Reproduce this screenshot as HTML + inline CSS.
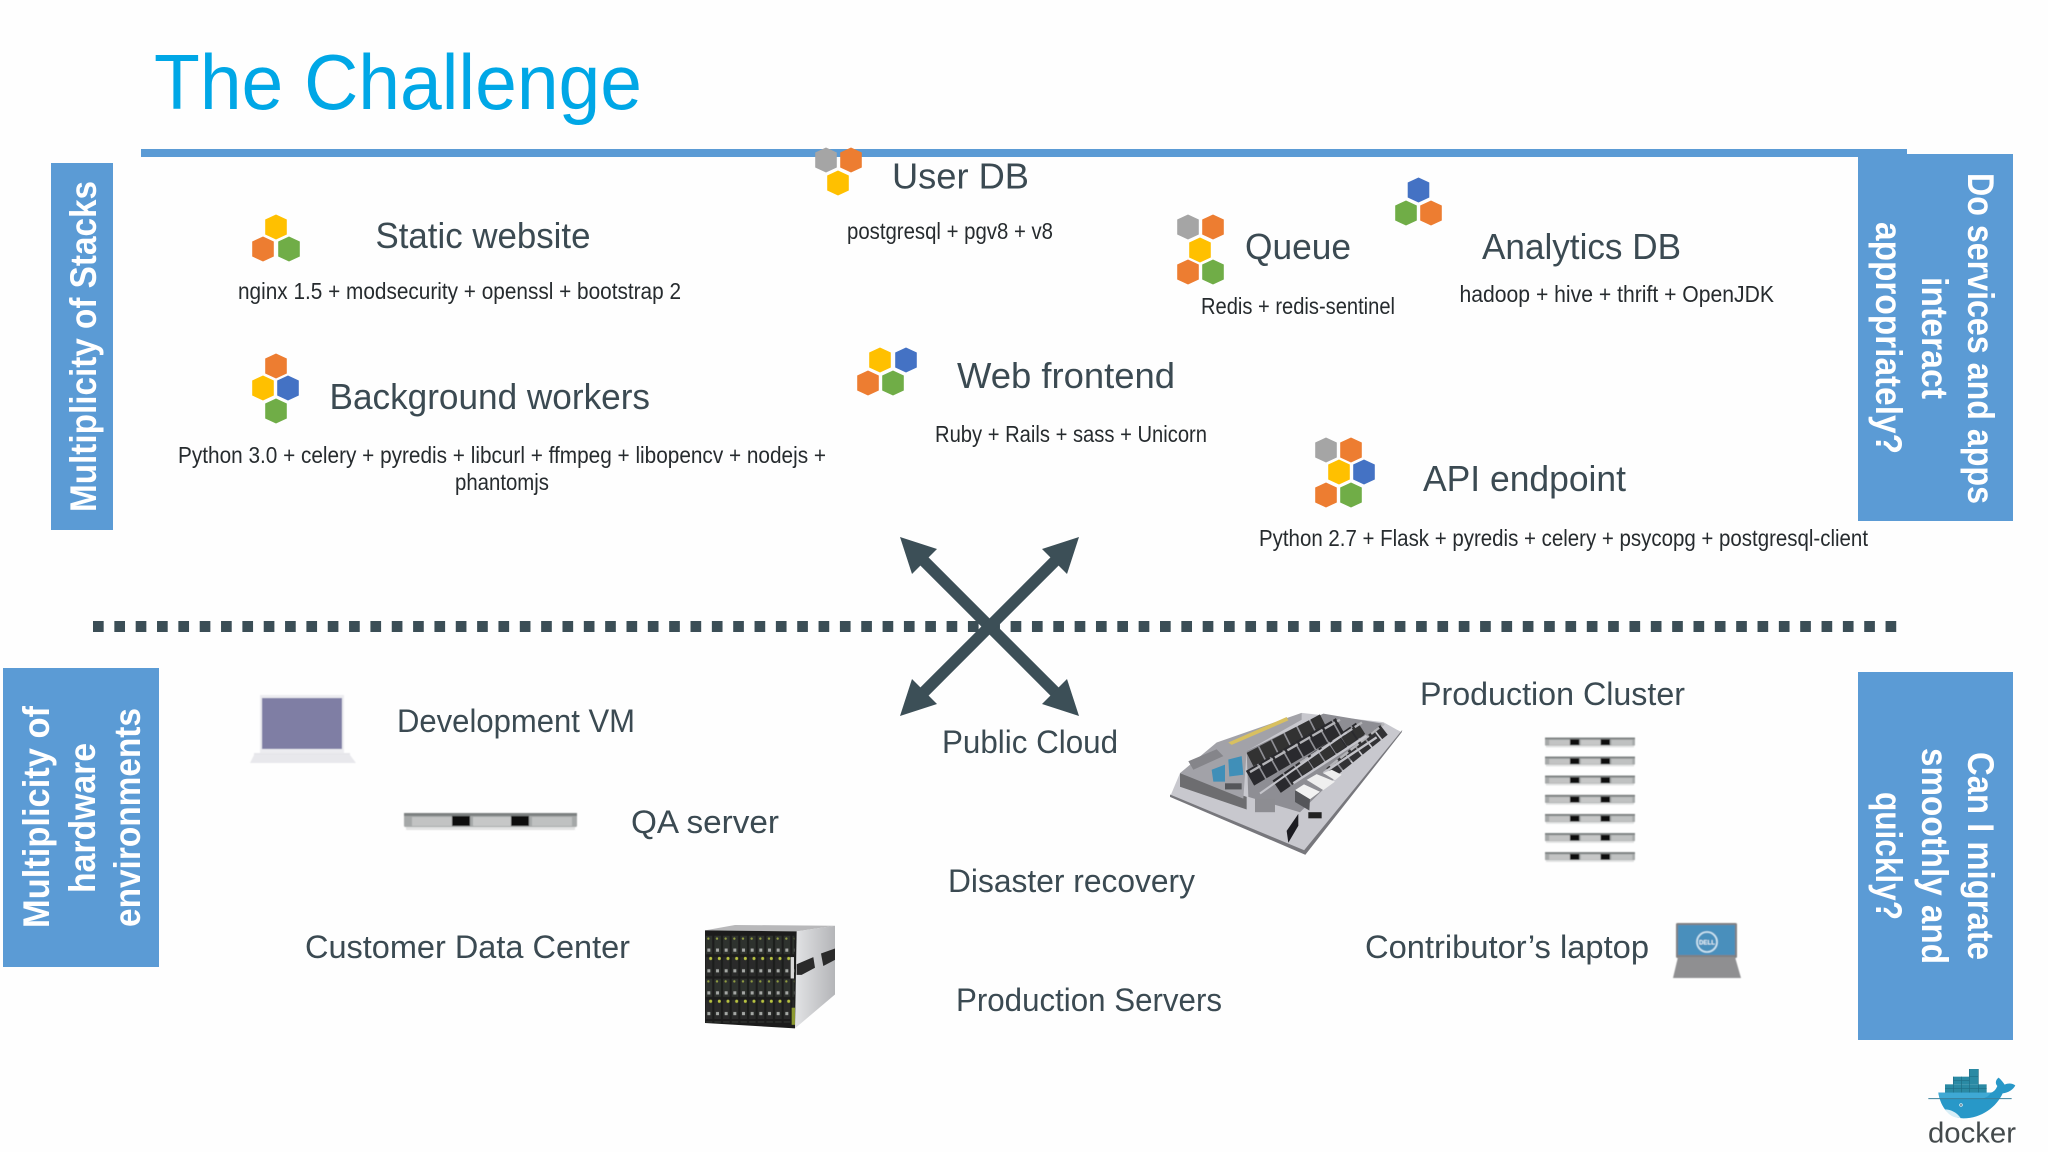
<!DOCTYPE html>
<html lang="en">
<head>
<meta charset="utf-8">
<title>The Challenge</title>
<style>
html,body{margin:0;padding:0;background:#fefefe;width:2048px;height:1152px;overflow:hidden}
svg{display:block;position:absolute;left:0;top:0}
text{font-family:"Liberation Sans",Arial,sans-serif}
.h{font-size:36px;fill:#3b4a52}
.l{font-size:32px;fill:#3b4a52}
.s{font-size:23px;fill:#262b2e}
.b{font-size:37px;font-weight:bold;fill:#fff}
</style>
</head>
<body>
<svg width="2048" height="1152" viewBox="0 0 2048 1152" xmlns="http://www.w3.org/2000/svg">
<defs>
<polygon id="h" points="0,-12.5 10.8,-7.5 10.8,7.5 0,12.5 -10.8,7.5 -10.8,-7.5"/>
<filter id="bl" x="-5%" y="-5%" width="110%" height="110%"><feGaussianBlur stdDeviation="0.6"/></filter>
<linearGradient id="side" x1="0" y1="0" x2="1" y2="0"><stop offset="0" stop-color="#e2e3e5"/><stop offset="1" stop-color="#b4b5b8"/></linearGradient>
<g id="srv">
<rect x="0" y="1" width="173" height="14" rx="1.5" fill="#a5a8a8"/>
<rect x="0" y="1" width="173" height="3" fill="#7c8080"/>
<rect x="8" y="5" width="40" height="9" fill="#c2c3c3"/>
<rect x="69" y="5" width="42" height="9" fill="#c6c7c7"/>
<rect x="128" y="5" width="40" height="9" fill="#bfc1c1"/>
<rect x="48" y="4" width="18" height="10" fill="#0c0c0c"/>
<rect x="107" y="4" width="18" height="10" fill="#0c0c0c"/>
<rect x="2" y="15" width="169" height="3" fill="#e2e3e3"/>
</g>
<pattern id="slots" x="30" y="58" width="26" height="120" patternUnits="userSpaceOnUse">
<rect width="26" height="120" fill="#1a1c1a"/>
<rect x="2" y="2" width="20" height="52" fill="#2e302e"/>
<rect x="2" y="62" width="20" height="54" fill="#292b29"/>
<circle cx="10" cy="10" r="3.5" fill="#8f9c40"/>
<circle cx="17" cy="66" r="4.5" fill="#b8c240"/>
<rect x="7" y="38" width="9" height="9" fill="#a4a7a4"/>
<rect x="7" y="96" width="9" height="9" fill="#a4a7a4"/>
</pattern>
</defs>

<rect width="2048" height="1152" fill="#fefefe"/>

<!-- Title -->
<text x="154" y="109" font-size="78" fill="#00a7e6" textLength="488" lengthAdjust="spacingAndGlyphs">The Challenge</text>

<!-- Top bar & boxes -->
<rect x="141" y="149" width="1766" height="8" fill="#5b9bd5"/>
<rect x="51" y="163" width="62" height="367" fill="#5b9bd5"/>
<rect x="1858" y="154" width="155" height="367" fill="#5b9bd5"/>
<rect x="1858" y="149" width="49" height="8" fill="#5b9bd5"/>
<rect x="3" y="668" width="156" height="299" fill="#5b9bd5"/>
<rect x="1858" y="672" width="155" height="368" fill="#5b9bd5"/>

<!-- Box labels -->
<text class="b" transform="translate(96,512) rotate(-90)" textLength="331" lengthAdjust="spacingAndGlyphs">Multiplicity of Stacks</text>
<text class="b" transform="translate(49,928) rotate(-90)" textLength="222" lengthAdjust="spacingAndGlyphs">Multiplicity of</text>
<text class="b" transform="translate(95,893) rotate(-90)" textLength="150" lengthAdjust="spacingAndGlyphs">hardware</text>
<text class="b" transform="translate(140,927) rotate(-90)" textLength="219" lengthAdjust="spacingAndGlyphs">environments</text>

<text class="b" transform="translate(1968,173) rotate(90)" textLength="331" lengthAdjust="spacingAndGlyphs">Do services and apps</text>
<text class="b" transform="translate(1922,277) rotate(90)" textLength="122" lengthAdjust="spacingAndGlyphs">interact</text>
<text class="b" transform="translate(1876,222) rotate(90)" textLength="232" lengthAdjust="spacingAndGlyphs">appropriately?</text>

<text class="b" transform="translate(1968,752) rotate(90)" textLength="208" lengthAdjust="spacingAndGlyphs">Can I migrate</text>
<text class="b" transform="translate(1922,748) rotate(90)" textLength="216" lengthAdjust="spacingAndGlyphs">smoothly and</text>
<text class="b" transform="translate(1876,792) rotate(90)" textLength="128" lengthAdjust="spacingAndGlyphs">quickly?</text>

<!-- Hex clusters -->
<g>
<use href="#h" x="276" y="227" fill="#ffc000"/><use href="#h" x="263" y="249" fill="#ed7d31"/><use href="#h" x="289" y="249" fill="#70ad47"/>
<use href="#h" x="826" y="160" fill="#a5a5a5"/><use href="#h" x="851" y="160" fill="#ed7d31"/><use href="#h" x="838" y="183" fill="#ffc000"/>
<use href="#h" x="276" y="366" fill="#ed7d31"/><use href="#h" x="263" y="388" fill="#ffc000"/><use href="#h" x="288" y="388" fill="#4472c4"/><use href="#h" x="276" y="411" fill="#70ad47"/>
<use href="#h" x="880" y="360" fill="#ffc000"/><use href="#h" x="906" y="360" fill="#4472c4"/><use href="#h" x="868" y="383" fill="#ed7d31"/><use href="#h" x="893" y="383" fill="#70ad47"/>
<use href="#h" x="1188" y="227" fill="#a5a5a5"/><use href="#h" x="1213" y="227" fill="#ed7d31"/><use href="#h" x="1200" y="250" fill="#ffc000"/><use href="#h" x="1188" y="272" fill="#ed7d31"/><use href="#h" x="1213" y="272" fill="#70ad47"/>
<use href="#h" x="1418.5" y="190" fill="#4472c4"/><use href="#h" x="1406" y="213" fill="#70ad47"/><use href="#h" x="1431" y="213" fill="#ed7d31"/>
<use href="#h" x="1326" y="450" fill="#a5a5a5"/><use href="#h" x="1351" y="450" fill="#ed7d31"/><use href="#h" x="1339" y="472" fill="#ffc000"/><use href="#h" x="1364" y="472" fill="#4472c4"/><use href="#h" x="1326" y="495" fill="#ed7d31"/><use href="#h" x="1351" y="495" fill="#70ad47"/>
</g>

<!-- Stack labels -->
<text class="h" x="375.5" y="248" textLength="215" lengthAdjust="spacingAndGlyphs">Static website</text>
<text class="s" x="238" y="299" textLength="443" lengthAdjust="spacingAndGlyphs">nginx 1.5 + modsecurity + openssl + bootstrap 2</text>
<text class="h" x="892" y="188.5" textLength="137" lengthAdjust="spacingAndGlyphs">User DB</text>
<text class="s" x="847" y="239" textLength="206" lengthAdjust="spacingAndGlyphs">postgresql + pgv8 + v8</text>
<text class="h" x="1245" y="259" textLength="106" lengthAdjust="spacingAndGlyphs">Queue</text>
<text class="s" x="1201" y="314" textLength="194" lengthAdjust="spacingAndGlyphs">Redis + redis-sentinel</text>
<text class="h" x="1482" y="259" textLength="199" lengthAdjust="spacingAndGlyphs">Analytics DB</text>
<text class="s" x="1459.5" y="302" textLength="314.5" lengthAdjust="spacingAndGlyphs">hadoop + hive + thrift + OpenJDK</text>
<text class="h" x="329.5" y="409" textLength="320.5" lengthAdjust="spacingAndGlyphs">Background workers</text>
<text class="s" x="178" y="463" textLength="648" lengthAdjust="spacingAndGlyphs">Python 3.0 + celery + pyredis + libcurl + ffmpeg + libopencv + nodejs +</text>
<text class="s" x="455" y="490" textLength="94" lengthAdjust="spacingAndGlyphs">phantomjs</text>
<text class="h" x="957" y="388" textLength="218" lengthAdjust="spacingAndGlyphs">Web frontend</text>
<text class="s" x="935" y="442" textLength="272" lengthAdjust="spacingAndGlyphs">Ruby + Rails + sass + Unicorn</text>
<text class="h" x="1423" y="491" textLength="203" lengthAdjust="spacingAndGlyphs">API endpoint</text>
<text class="s" x="1259" y="546" textLength="609" lengthAdjust="spacingAndGlyphs">Python 2.7 + Flask + pyredis + celery + psycopg + postgresql-client</text>

<!-- Dashed divider -->
<line x1="93" y1="626.5" x2="1897" y2="626.5" stroke="#3b4e56" stroke-width="11" stroke-dasharray="10.67 10.67"/>

<!-- X arrows -->
<g transform="translate(989.5,626.5)" fill="#3c4f57" stroke="none">
<line x1="-66" y1="-66" x2="66" y2="66" stroke="#3c4f57" stroke-width="11.5"/>
<line x1="66" y1="-66" x2="-66" y2="66" stroke="#3c4f57" stroke-width="11.5"/>
<polygon points="-89.5,-89.5 -52.5,-77.5 -61,-69 -69,-61 -77.5,-52.5"/>
<polygon points="89.5,-89.5 52.5,-77.5 61,-69 69,-61 77.5,-52.5"/>
<polygon points="-89.5,89.5 -52.5,77.5 -61,69 -69,61 -77.5,52.5"/>
<polygon points="89.5,89.5 52.5,77.5 61,69 69,61 77.5,52.5"/>
</g>

<!-- Environment labels -->
<text class="l" x="397" y="732" textLength="238" lengthAdjust="spacingAndGlyphs">Development VM</text>
<text class="l" x="631" y="833" textLength="148" lengthAdjust="spacingAndGlyphs">QA server</text>
<text class="l" x="305" y="958" textLength="325" lengthAdjust="spacingAndGlyphs">Customer Data Center</text>
<text class="l" x="942" y="753" textLength="176" lengthAdjust="spacingAndGlyphs">Public Cloud</text>
<text class="l" x="948" y="892" textLength="247" lengthAdjust="spacingAndGlyphs">Disaster recovery</text>
<text class="l" x="956" y="1011" textLength="266" lengthAdjust="spacingAndGlyphs">Production Servers</text>
<text class="l" x="1420" y="705" textLength="265" lengthAdjust="spacingAndGlyphs">Production Cluster</text>
<text class="l" x="1365" y="958" textLength="284" lengthAdjust="spacingAndGlyphs">Contributor’s laptop</text>

<!-- MacBook -->
<g filter="url(#bl)">
<rect x="260" y="695" width="84" height="58" fill="#ececf0"/>
<rect x="262" y="698" width="80" height="51" fill="#7f7ea4"/>
<rect x="254" y="753" width="96" height="3" fill="#e6e6ea"/>
<polygon points="254,755 350,755 356,763 250,763" fill="#e8e8ec"/>
</g>

<!-- QA server -->
<g filter="url(#bl)"><use href="#srv" x="404" y="812"/></g>

<!-- Server stack -->
<g filter="url(#bl)">
<use href="#srv" transform="translate(1545,737) scale(.52,.58)"/>
<use href="#srv" transform="translate(1545,756) scale(.52,.58)"/>
<use href="#srv" transform="translate(1545,775) scale(.52,.58)"/>
<use href="#srv" transform="translate(1545,794.3) scale(.52,.58)"/>
<use href="#srv" transform="translate(1545,813.4) scale(.52,.58)"/>
<use href="#srv" transform="translate(1545,832.5) scale(.52,.58)"/>
<use href="#srv" transform="translate(1545,851.6) scale(.52,.58)"/>
</g>

<!-- Blade enclosure -->
<g transform="translate(695,914.3) scale(.3333,.3565)" filter="url(#bl)">
<polygon points="30,45 120,30 420,32 305,48" fill="#b8b8ba"/>
<polygon points="305,48 420,32 420,225 300,320" fill="url(#side)"/>
<polygon points="30,45 305,48 300,320 30,305" fill="#1a1c1a"/>
<rect x="32" y="58" width="266" height="120" fill="url(#slots)"/>
<rect x="32" y="180" width="266" height="124" fill="url(#slots)"/>
<rect x="287" y="120" width="10" height="60" fill="#d8d8d8"/>
<rect x="290" y="262" width="10" height="48" fill="#8d9a30"/>
<polygon points="305,140 355,120 360,150 320,170 305,170" fill="#2a2a2a"/>
<polygon points="378,110 420,96 420,128 385,145" fill="#2a2a2a"/>
</g>

<!-- Data centre -->
<g transform="translate(1160,700) scale(.3333,.34)" filter="url(#bl)">
<polygon points="30,285 436,455 725,95 670,65 425,38 60,215" fill="#c8c8ce"/>
<polygon points="30,285 436,455 440,445 30,278" fill="#77777c"/>
<polygon points="436,455 725,95 727,88 430,445" fill="#77777c"/>
<polygon points="60,215 260,285 260,322 60,255" fill="#6d6d70"/>
<polygon points="60,215 170,125 425,38 425,58 260,150 250,290" fill="#a2a2a8"/>
<polygon points="205,125 380,50 385,60 215,132" fill="#d8c060"/>
<polygon points="85,180 170,145 190,165 100,205" fill="#85858a"/>
<polygon points="260,150 490,40 670,70 540,215 420,330 265,285" fill="#8e8e94"/>
<g fill="none" stroke-linecap="butt">
<line x1="270" y1="175" x2="490" y2="62" stroke="#303032" stroke-width="44" stroke-dasharray="38 5"/>
<line x1="270" y1="230" x2="540" y2="75" stroke="#2b2b2d" stroke-width="50" stroke-dasharray="38 5"/>
<line x1="350" y1="255" x2="600" y2="85" stroke="#2b2b2d" stroke-width="44" stroke-dasharray="36 5"/>
<line x1="420" y1="205" x2="606" y2="85" stroke="#303032" stroke-width="36" stroke-dasharray="34 5"/>
<line x1="510" y1="215" x2="672" y2="88" stroke="#333335" stroke-width="36" stroke-dasharray="32 5"/>
<line x1="270" y1="212" x2="540" y2="58" stroke="#b4b4b8" stroke-width="7" stroke-dasharray="36 7"/>
<line x1="420" y1="185" x2="606" y2="66" stroke="#b4b4b8" stroke-width="7" stroke-dasharray="30 9"/>
<line x1="510" y1="195" x2="672" y2="70" stroke="#b4b4b8" stroke-width="7" stroke-dasharray="30 9"/>
<line x1="300" y1="275" x2="560" y2="95" stroke="#c4c4ca" stroke-width="6"/>
<line x1="400" y1="245" x2="620" y2="105" stroke="#c4c4ca" stroke-width="7"/>
<line x1="490" y1="215" x2="650" y2="110" stroke="#c4c4ca" stroke-width="7"/>
</g>
<polygon points="405,265 432,248 480,270 450,292" fill="#f2f2f2"/>
<polygon points="405,265 450,292 448,325 405,300" fill="#55575a"/>
<polygon points="440,235 470,218 525,240 490,265" fill="#efefef"/>
<polygon points="490,215 515,205 545,220 525,236" fill="#ededed"/>
<polygon points="155,205 195,190 195,240 160,240" fill="#3f8fb8"/>
<polygon points="205,175 245,165 250,220 208,225" fill="#3f8fb8"/>
<rect x="195" y="245" width="50" height="18" fill="#55575a"/>
<polygon points="380,385 415,335 415,370 385,420" fill="#1e1e20"/>
<rect x="285" y="290" width="60" height="40" fill="#8d8d92"/>
<rect x="445" y="330" width="40" height="18" fill="#222"/>
</g>

<!-- Dell laptop -->
<g filter="url(#bl)">
<rect x="1676" y="923" width="61" height="35" rx="1.5" fill="#808082"/>
<rect x="1678" y="925" width="57" height="30" fill="#4a8fbc"/>
<polygon points="1678,957 1735,957 1741,978 1673,978" fill="#8f8f91"/>
<circle cx="1707" cy="942" r="10" fill="none" stroke="#d4e9f5" stroke-width="1.6"/>
<text x="1699" y="944.5" font-size="6.5" font-weight="bold" fill="#eef6fb" textLength="16" lengthAdjust="spacingAndGlyphs">DELL</text>
</g>

<!-- Docker -->
<g transform="translate(1900,1050) scale(.3333)">
<g fill="#2a8aa4">
<rect x="135" y="103" width="125" height="26"/>
<rect x="160" y="80" width="48" height="23"/>
<rect x="208" y="57" width="27" height="46"/>
</g>
<path d="M135 116H260M160 92H208M208 80H235M160 80V129M185 80V129M208 57V129M235 57V129" stroke="#1f6d85" stroke-width="2" fill="none"/>
<path d="M115 128 H270 C280 128 288 118 292 108 C284 100 288 88 296 83 C304 90 310 98 314 104 C325 98 338 100 346 106 C340 118 326 128 308 130 C290 170 245 205 190 205 C150 205 122 175 115 128Z" fill="#2898c8"/>
<path d="M115 128 H272 C268 138 258 144 245 146 H119Z" fill="#3fa9d4"/>
<path d="M135 178 C150 178 170 186 182 204 C160 204 146 194 135 178Z" fill="#d7eef7"/>
<circle cx="183" cy="165" r="5" fill="#fff"/><circle cx="183" cy="165" r="2.5" fill="#1d4a60"/>
<line x1="85" y1="146" x2="335" y2="146" stroke="#3a7f9a" stroke-width="3"/>
</g>
<text x="1928" y="1142.5" font-size="29" fill="#444a4c" textLength="88" lengthAdjust="spacingAndGlyphs">docker</text>
</svg>
</body>
</html>
